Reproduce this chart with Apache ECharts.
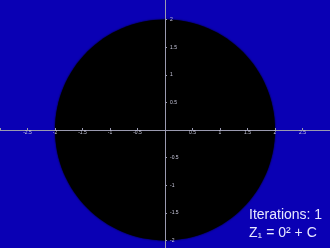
<!DOCTYPE html>
<html>
<head>
<meta charset="utf-8">
<script src="https://cdn.jsdelivr.net/npm/echarts@6/dist/echarts.min.js"></script>
<style>
  html, body { margin: 0; padding: 0; background: #0a00b4; }
  #chart { width: 330px; height: 248px; }
</style>
</head>
<body>
<div id="chart"></div>
<script>
// disk |c| <= 2 after one iteration
const diskCenter = [0, 0];
const diskRadius = 2;
const xRange = [-3, 3];
const yRange = [-2.5, 2.5];
const tickStep = 0.5;
const captionLines = ['Iterations: 1', 'Z\u2081 = 0\u00b2 + C'];

const labelFmt = v => (Math.abs(v) < 1e-9 || Math.abs(v) >= 2.9) ? '' : String(v);

let myChart = echarts.init(document.getElementById('chart'));
let option = {
  backgroundColor: '#0a00b4',
  animation: false,
  grid: { left: 0, right: 0, top: -8, bottom: -20, outerBoundsMode: 'none', containLabel: false },
  xAxis: {
    type: 'value', min: xRange[0], max: xRange[1], interval: tickStep, z: 5,
    position: 'bottom', offset: -138,
    axisLine: { onZero: false, lineStyle: { color: '#9a9ab0', width: 1 } },
    axisTick: { show: true, length: 2, inside: true, lineStyle: { color: '#9a9ab0' } },
    splitLine: { show: false },
    axisLabel: { color: '#c8c8dc', fontSize: 5, margin: 0, formatter: labelFmt }
  },
  yAxis: {
    type: 'value', min: yRange[0], max: yRange[1], interval: tickStep, z: 5,
    position: 'left', offset: -165,
    axisLine: { onZero: false, lineStyle: { color: '#9a9ab0', width: 1 } },
    axisTick: { show: true, length: 2, inside: true, lineStyle: { color: '#9a9ab0' } },
    splitLine: { show: false },
    axisLabel: { color: '#c8c8dc', fontSize: 5, inside: true, margin: 5, formatter: labelFmt }
  },
  series: [{
    type: 'custom',
    z: 1,
    clip: false,
    data: [[diskCenter[0], diskCenter[1], diskRadius]],
    renderItem: function (params, api) {
      const c = api.coord([api.value(0), api.value(1)]);
      const s = api.size([api.value(2), api.value(2)]);
      return {
        type: 'ellipse',
        shape: { cx: c[0], cy: c[1], rx: s[0], ry: s[1] },
        style: { fill: '#000000', shadowBlur: 2, shadowColor: '#000000' }
      };
    }
  }],
  graphic: [
    { type: 'text', left: 249, top: 208, z: 10,
      style: { text: captionLines[0], fill: '#e8e8ff', font: '14px "Liberation Sans", Arial, sans-serif' } },
    { type: 'text', left: 249, top: 226, z: 10,
      style: { text: captionLines[1], fill: '#e8e8ff', font: '14px "Liberation Sans", Arial, sans-serif' } }
  ]
};
myChart.setOption(option);
</script>
</body>
</html>
